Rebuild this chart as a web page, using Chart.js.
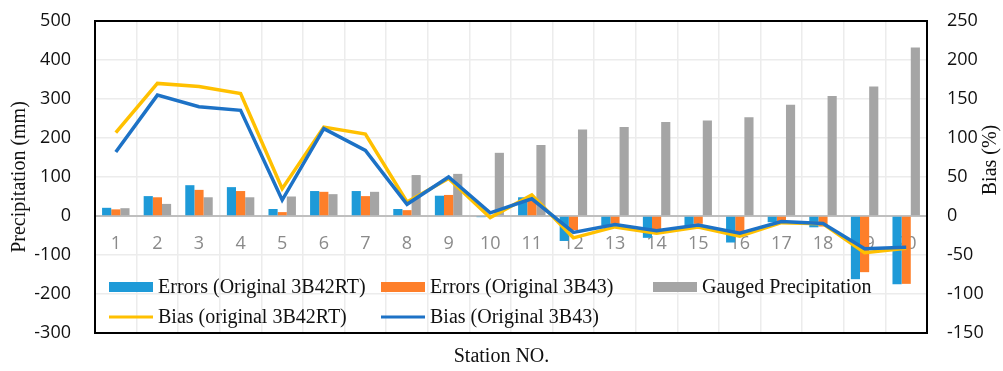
<!DOCTYPE html>
<html>
<head>
<meta charset="utf-8">
<script src="https://cdn.jsdelivr.net/npm/chart.js@4/dist/chart.umd.min.js"></script>
<style>
  html, body { margin: 0; padding: 0; background: #fff; }
  #wrap { width: 1003px; height: 371px; }
</style>
</head>
<body>
<div id="wrap"><canvas id="chart"></canvas></div>
<script>
let stations = ["1","2","3","4","5","6","7","8","9","10","11","12","13","14","15","16","17","18","19","20"]

// mm, left axis
let errors3B42RT = [21, 51, 79, 74, 18, 64, 64, 18, 52, -3, 48, -64, -25, -56, -25, -68, -16, -29, -162, -175]
let errors3B43 = [17, 48, 67, 64, 10, 62, 51, 15, 54, -1, 41, -36, -20, -44, -20, -50, -13, -27, -144, -174]
let gauged = [20, 31, 48, 48, 50, 56, 62, 105, 108, 162, 182, 222, 228, 241, 245, 253, 285, 308, 332, 432]

// %, right axis
let bias3B42RT = [107, 170, 166, 157, 35, 114, 105, 18, 48, -2, 27, -28, -14, -22, -14, -26, -8.5, -10, -47, -41.5]
let bias3B43 = [82, 155, 140, 135.5, 20.5, 112, 84, 15, 50, 4, 22, -21, -11, -19, -11.5, -22, -7, -9.5, -42, -40]

let serif = "'Liberation Serif', 'Times New Roman', serif"
let sans = "'Open Sans', sans-serif"

// border box, legend inside the plot, right title (reads bottom to top)
let extras = {
  id: "extras",
  afterDraw(chart) {
    let ctx = chart.ctx
    let a = chart.chartArea
    ctx.save()
    ctx.strokeStyle = "#000"
    ctx.lineWidth = 2
    ctx.strokeRect(a.left, a.top, a.right - a.left, a.bottom - a.top)

    ctx.font = "20px " + serif
    ctx.textBaseline = "middle"
    ctx.textAlign = "left"
    chart.data.datasets.forEach((ds, i) => {
      let x = a.left + 14 + (i % 3) * 272
      let y = a.bottom - 46 + Math.floor(i / 3) * 30
      if (ds.type === "line") {
        ctx.strokeStyle = ds.borderColor
        ctx.lineWidth = 3
        ctx.beginPath()
        ctx.moveTo(x, y)
        ctx.lineTo(x + 44, y)
        ctx.stroke()
      } else {
        ctx.fillStyle = ds.backgroundColor
        ctx.fillRect(x, y - 5, 44, 10)
      }
      ctx.fillStyle = "#111"
      ctx.fillText(ds.label, x + 49, y + 1)
    })

    ctx.translate(chart.width - 12, a.top + 139)
    ctx.rotate(-Math.PI / 2)
    ctx.textAlign = "center"
    ctx.fillStyle = "#111"
    ctx.fillText("Bias (%)", 0, 0)
    ctx.restore()
  }
}

new Chart(document.getElementById("chart"), {
  data: {
    labels: stations,
    datasets: [
      { type: "bar", label: "Errors (Original 3B42RT)", data: errors3B42RT, backgroundColor: "#1E9AD8", yAxisID: "y", order: 2 },
      { type: "bar", label: "Errors (Original 3B43)", data: errors3B43, backgroundColor: "#FE7F2A", yAxisID: "y", order: 2 },
      { type: "bar", label: "Gauged Precipitation", data: gauged, backgroundColor: "#A5A5A5", yAxisID: "y", order: 2 },
      { type: "line", label: "Bias (original 3B42RT)", data: bias3B42RT, borderColor: "#FFC000", backgroundColor: "#FFC000", borderWidth: 3.5, pointRadius: 0, tension: 0, yAxisID: "y1", order: 1 },
      { type: "line", label: "Bias (Original 3B43)", data: bias3B43, borderColor: "#1D72C6", backgroundColor: "#1D72C6", borderWidth: 3.5, pointRadius: 0, tension: 0, yAxisID: "y1", order: 0 }
    ]
  },
  options: {
    responsive: true,
    maintainAspectRatio: false,
    animation: false,
    layout: { padding: { top: 21, left: 0, right: 0, bottom: 0 } },
    datasets: { bar: { categoryPercentage: 0.66, barPercentage: 1.0 } },
    plugins: {
      legend: { display: false },
      tooltip: { enabled: false },
      title: {
        display: true,
        position: "bottom",
        text: "Station NO.",
        color: "#111",
        font: { family: serif, size: 20, weight: "normal" },
        padding: { top: 12, bottom: 2 }
      }
    },
    scales: {
      x: {
        position: { y: 0 },
        offset: true,
        grid: { offset: true, color: "#ececec", lineWidth: 1.5, drawTicks: false },
        border: { display: true, color: "#bfbfbf", width: 2 },
        ticks: { color: "#8a8a8a", font: { family: sans, size: 18 }, padding: 17, maxRotation: 0, autoSkip: false },
        afterFit(s) { s.height = 0 }
      },
      y: {
        position: "left",
        min: -300,
        max: 500,
        ticks: { stepSize: 100, color: "#111", font: { family: sans, size: 18 }, padding: 24 },
        grid: { color: "#ececec", lineWidth: 1.5, drawTicks: false },
        border: { color: "#000", width: 2 },
        title: { display: true, text: "Precipitation (mm)", color: "#111", font: { family: serif, size: 20 }, padding: { top: 8, bottom: 0 } },
        afterFit(s) { s.width = 95; s.paddingTop = 0; s.paddingBottom = 0 }
      },
      y1: {
        position: "right",
        min: -150,
        max: 250,
        ticks: { stepSize: 50, color: "#111", font: { family: sans, size: 18 }, padding: 20 },
        grid: { display: false, drawTicks: false },
        border: { color: "#000", width: 2 },
        afterFit(s) { s.width = 76; s.paddingTop = 0; s.paddingBottom = 0 }
      }
    }
  },
  plugins: [extras]
})
</script>
</body>
</html>
